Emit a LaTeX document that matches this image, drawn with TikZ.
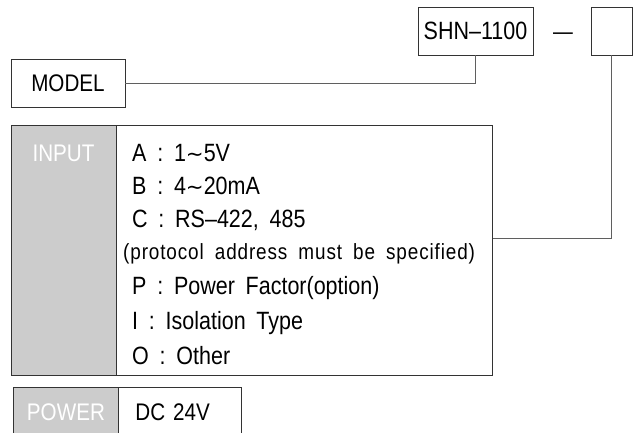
\documentclass[tikz,border=0pt]{standalone}
\usepackage{fontspec}
\setmainfont[FakeStretch=0.86,WordSpace=1.8]{Liberation Sans}
\newfontfamily\notefont[FakeStretch=0.86,WordSpace=1.8,LetterSpace=4]{Liberation Sans}
\newfontfamily\wavefont[Scale=0.85]{DejaVu Sans}
\usetikzlibrary{positioning}
\definecolor{cellgray}{RGB}{204,204,204}
\definecolor{linegray}{RGB}{95,95,95}
\newcommand{\wave}{{\wavefont ∼}}

\begin{document}
\begin{tikzpicture}[x=1pt,y=-1pt,font=\fontsize{24}{28}\selectfont,
   box/.style={draw=black!80,line width=0.9pt,inner sep=0pt},
   cell/.style={box,fill=cellgray,text=white},
   wire/.style={draw=linegray,line width=0.9pt},
   item/.style={anchor=base west,inner sep=0pt,font=\fontsize{25}{28}\selectfont}]
  \useasboundingbox (0,0) rectangle (634,432);
  % part number
  \node[box,minimum width=115,minimum height=48,font=\fontsize{25}{28}\selectfont] (shn) at (475.5,31) {SHN--1100};
  \node[box,minimum width=41,minimum height=48] (opt) at (611.5,31) {};
  \node[anchor=base,inner sep=0pt,font=\fontsize{23}{26}\selectfont] (sep) at (563,39) {---};
  % model
  \node[box,minimum width=114,minimum height=48] (model) at (68,83) {MODEL};
  \draw[wire] (shn.south) |- (model.east);
  % input table
  \node[cell,minimum width=105,minimum height=250,anchor=north west] (incell) at (11,125) {};
  \node[box,minimum width=376,minimum height=250,anchor=north west] (inlist) at (116,125) {};
  \node[anchor=base,text=white,inner sep=0pt] (inlabel) at (63.5,161) {INPUT};
  \foreach \txt/\xx/\yy [count=\i] in {{A : 1\wave5V}/132/161,{B : 4\wave20mA}/132/194,
      {C : RS--422, 485}/132/227,
      {\notefont\fontsize{22}{24}\selectfont (protocol address must be specified)}/123/259,
      {P : Power Factor(option)}/132/294,{I : Isolation Type}/132/329,{O : Other}/132/364}
    \node[item] (item\i) at (\xx,\yy) {\txt};
  \draw[wire] (opt.south) |- ([yshift=12pt]inlist.east);
  % power
  \node[cell,minimum width=105,minimum height=50,anchor=north west] (pwcell) at (13,387) {POWER};
  \node[box,minimum width=123,minimum height=50,text width=89pt,inner xsep=17pt,
        align=left,anchor=north west] (pwval) at (118,387) {DC 24V};
\end{tikzpicture}
\end{document}
